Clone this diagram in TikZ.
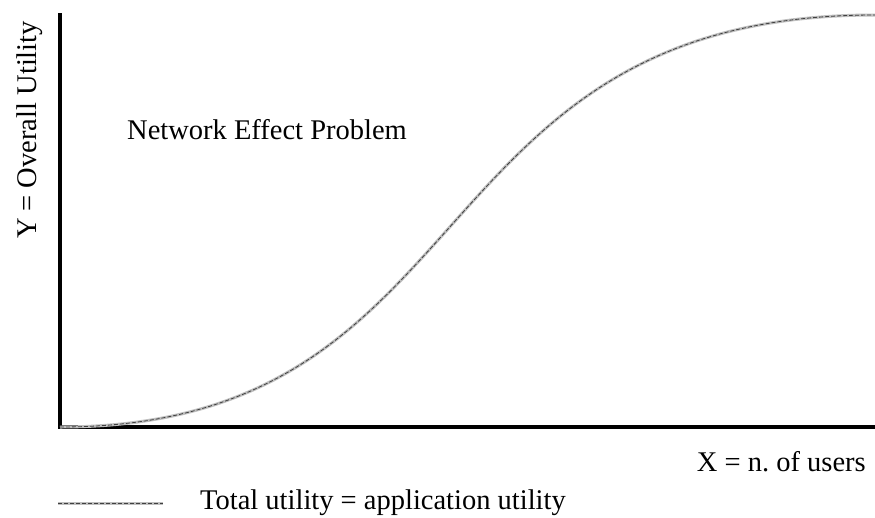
\documentclass[tikz,border=0pt]{standalone}
\usepackage{fontspec}
\setmainfont{Liberation Serif}
\frenchspacing
\begin{document}
\begin{tikzpicture}[x=1pt,y=-1pt,
  axisline/.style={line width=4pt,black},
  curvebase/.style={line width=3pt,color=black!25},
  curvedash/.style={line width=0.8pt,color=black!75,dash pattern=on 4pt off 2pt},
  lbl/.style={font=\fontsize{28.5}{32}\selectfont,inner sep=0pt}]
\useasboundingbox (0,0) rectangle (875,517);
\coordinate (top) at (60,13);
\coordinate (origin) at (60,427);
\coordinate (right) at (875,427);
\coordinate (cstart) at (60,427);
\coordinate (cend) at (875,15);
\draw[axisline] (top) -- (origin) -- (right);
\draw[curvebase] (cstart) .. controls (490,427) and (412,15) .. (cend);
\draw[curvedash] (cstart) .. controls (490,427) and (412,15) .. (cend);
\node[lbl,rotate=90] (ylab) at (30,130) {Y = Overall Utility};
\node[lbl,anchor=west] (title) at (127,130) {Network Effect Problem};
\node[lbl,anchor=east] (xlab) at (866,462) {X = n.\ of users};
\coordinate (l1) at (58,503);
\coordinate (l2) at (163,503);
\draw[curvebase] (l1) -- (l2);
\draw[curvedash] (l1) -- (l2);
\node[lbl,anchor=west] (legend) at (200,503) {Total utility = application utility};
\end{tikzpicture}
\end{document}
